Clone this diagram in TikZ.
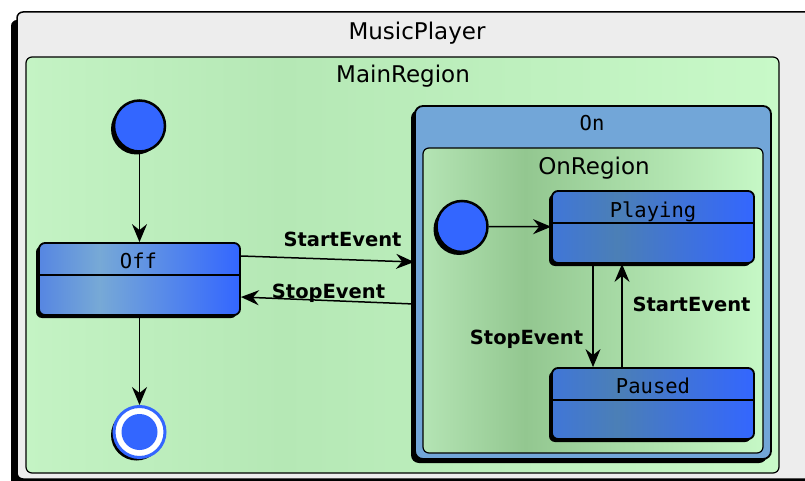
\documentclass[tikz,border=0pt]{standalone}
\usepackage{fontspec}
\setmainfont{DejaVu Sans}
\setmonofont{DejaVu Sans Mono}
\usetikzlibrary{positioning,arrows.meta,shadows,calc}

\definecolor{stateblue}{HTML}{3366FF}
\definecolor{offleft}{HTML}{5686E2}
\definecolor{offmid}{HTML}{77A9D6}
\definecolor{playleft}{HTML}{4076D8}
\definecolor{playmid}{HTML}{4B7FB6}
\definecolor{onblue}{HTML}{72A6D8}
\definecolor{mainleft}{HTML}{C4F3C4}
\definecolor{mainmid}{HTML}{B5E8B5}
\definecolor{mainright}{HTML}{C8F9C8}
\definecolor{onregleft}{HTML}{B4E4B4}
\definecolor{onregmid}{HTML}{93C790}
\definecolor{onregright}{HTML}{C6F8C6}
\definecolor{outergray}{HTML}{EDEDED}

\pgfdeclarehorizontalshading{offshade}{100bp}{color(0bp)=(offleft); color(25bp)=(offleft); color(40bp)=(offmid); color(75bp)=(stateblue); color(100bp)=(stateblue)}
\pgfdeclarehorizontalshading{playshade}{100bp}{color(0bp)=(playleft); color(25bp)=(playleft); color(41bp)=(playmid); color(75bp)=(stateblue); color(100bp)=(stateblue)}
\pgfdeclarehorizontalshading{mainshade}{100bp}{color(0bp)=(mainleft); color(25bp)=(mainleft); color(42bp)=(mainmid); color(75bp)=(mainright); color(100bp)=(mainright)}
\pgfdeclarehorizontalshading{onregshade}{100bp}{color(0bp)=(onregleft); color(25bp)=(onregleft); color(40bp)=(onregmid); color(75bp)=(onregright); color(100bp)=(onregright)}

\begin{document}
\begin{tikzpicture}[
  x=1pt, y=-1pt,
  blackshadow/.style={drop shadow={shadow xshift=-3pt, shadow yshift=-3pt, opacity=1, fill=black}},
  region/.style={rectangle, draw=black, line width=1.2pt, rounded corners=6pt, inner sep=0pt},
  statebox/.style={rectangle, draw=black, line width=1.8pt, rounded corners=6pt, inner sep=0pt, minimum width=202pt, minimum height=72pt, shade, blackshadow},
  initial/.style={circle, draw=black, line width=2.5pt, fill=stateblue, minimum size=51pt, inner sep=0pt, blackshadow},
  final/.style={circle, draw=stateblue, line width=3pt, fill=white, minimum size=51pt, inner sep=0pt, blackshadow,
    path picture={\fill[stateblue] (path picture bounding box.center) circle (18pt);}},
  title/.style={font=\fontsize{23}{27}\selectfont, inner sep=0pt, anchor=base},
  statename/.style={font=\ttfamily\fontsize{20.5}{24}\selectfont, inner sep=0pt, anchor=base},
  event/.style={font=\bfseries\fontsize{19.5}{23}\selectfont, inner sep=0pt, anchor=base},
  trans/.style={-{Stealth[length=18pt, width=15pt, inset=6pt]}, line width=1.5pt}
]
\clip (0,0) rectangle (805,481);

% Outer machine
\node[region, fill=outergray, line width=1.5pt, minimum width=813pt, minimum height=467pt,
      drop shadow={shadow xshift=-6pt, shadow yshift=-8pt, opacity=1, fill=black}] (player) at (423.5,245.5) {};
\node[title] (player_label) at (417,40) {MusicPlayer};

% Main region
\node[region, shade, shading=mainshade, minimum width=753pt, minimum height=416pt] (mainreg) at (402.5,265) {};
\node[title] (mainreg_label) at (403,83) {MainRegion};

\node[initial] (init1) at (139.5,126) {};
\node[statebox, shading=offshade, minimum width=201pt] (off) at (139.5,279) {};
\draw[line width=1.5pt] ([yshift=-33pt]off.north west) -- ([yshift=-33pt]off.north east);
\node[statename] (off_label) at (138.5,268) {Off};
\node[final] (final1) at (139.5,432) {};

% Composite state On
\node[rectangle, draw=black, line width=1.8pt, rounded corners=8pt, fill=onblue, minimum width=356pt, minimum height=353pt, inner sep=0pt,
      drop shadow={shadow xshift=-4pt, shadow yshift=-4pt, opacity=1, fill=black}] (on) at (593,282.5) {};
\node[statename] (on_label) at (592,131) {On};
\node[region, shade, shading=onregshade, minimum width=340pt, minimum height=305pt] (onreg) at (593,300.5) {};
\node[title] (onreg_label) at (594,175) {OnRegion};

\node[initial] (init2) at (462,226.5) {};
\node[statebox, shading=playshade] (playing) at (653,227) {};
\draw[line width=1.5pt] ([yshift=-33pt]playing.north west) -- ([yshift=-33pt]playing.north east);
\node[statename] (playing_label) at (653,217) {Playing};
\node[statebox, shading=playshade, minimum height=71pt] (paused) at (653,403.5) {};
\draw[line width=1.5pt] ([yshift=-33pt]paused.north west) -- ([yshift=-33pt]paused.north east);
\node[statename] (paused_label) at (653,393) {Paused};

% Transitions
\draw[trans] (init1) -- (off);
\draw[trans] (off) -- (final1);
\draw[trans] ([yshift=23pt]off.east) -- ([yshift=20.5pt]on.west);
\node[event] (start_label) at (342.5,246) {StartEvent};
\draw[trans] ([yshift=-21.5pt]on.west) -- ([yshift=-18pt]off.east);
\node[event] (stop_label) at (328.5,298) {StopEvent};

\draw[trans] (init2) -- (playing);
\draw[trans] ([xshift=-60pt]playing.south) -- ([xshift=-60pt]paused.north);
\node[event] (stop_label2) at (526.5,344) {StopEvent};
\draw[trans] ([xshift=-31pt]paused.north) -- ([xshift=-31pt]playing.south);
\node[event] (start_label2) at (691.5,311) {StartEvent};

\end{tikzpicture}
\end{document}
